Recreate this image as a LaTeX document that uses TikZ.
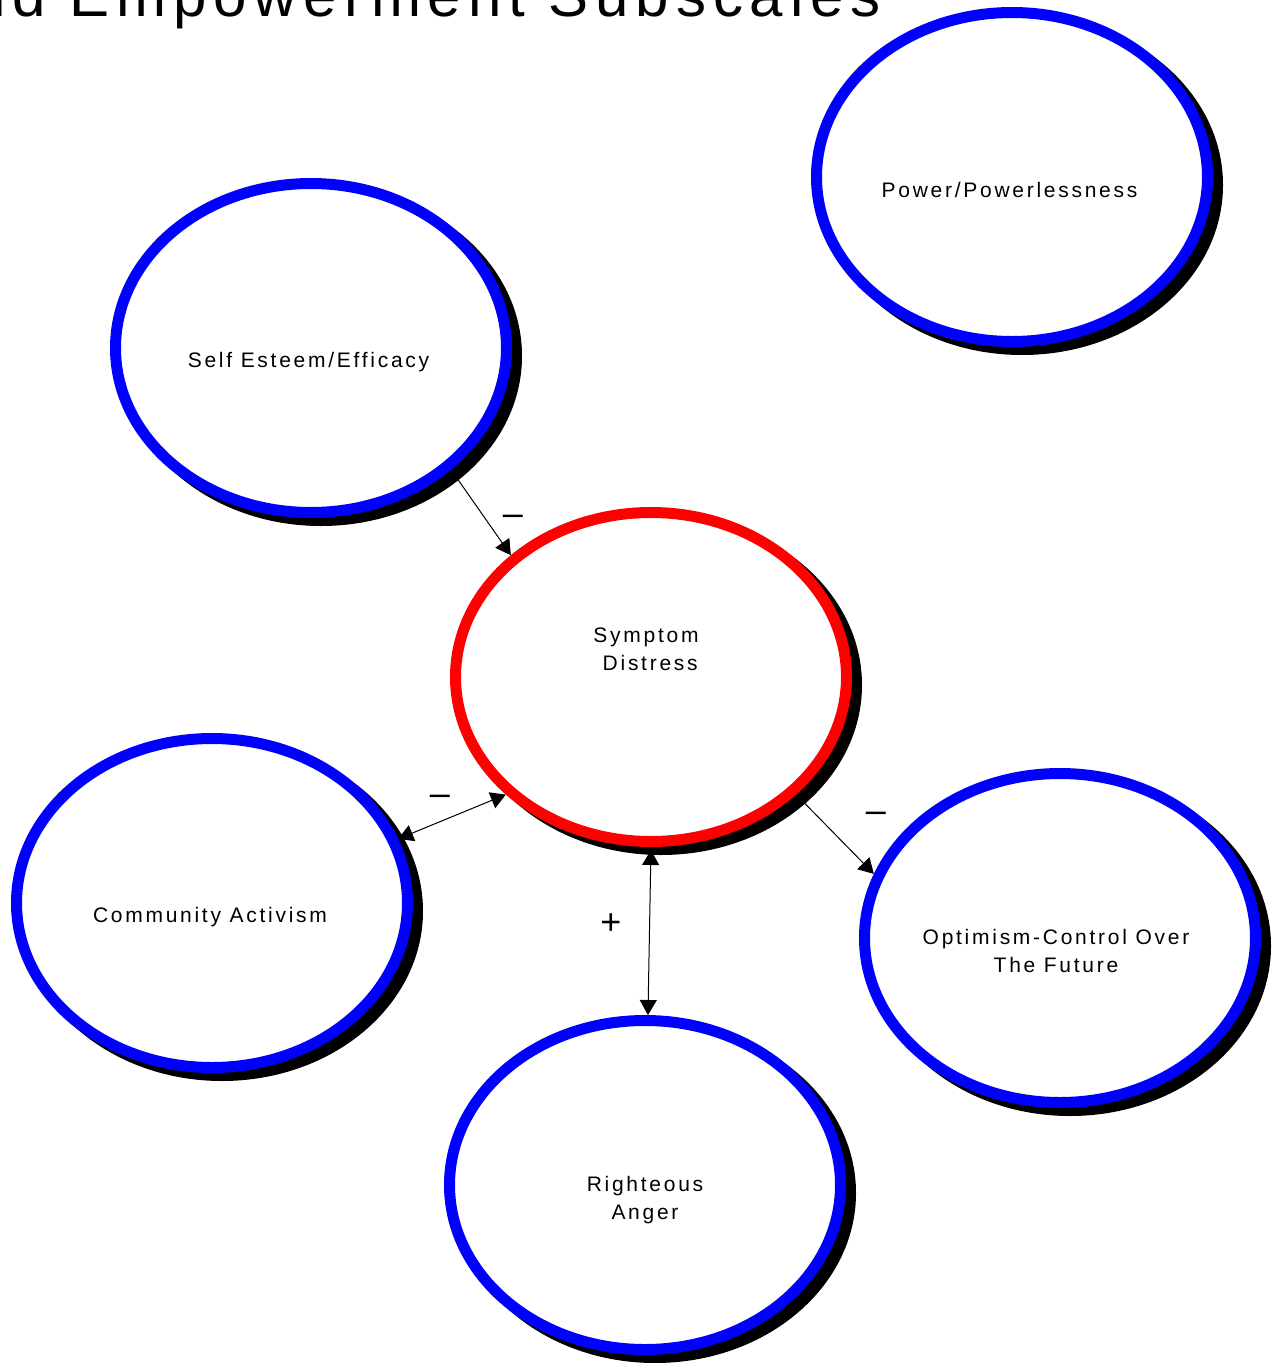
\documentclass[tikz,border=0pt]{standalone}
\usepackage{fontspec}
\setmainfont{Liberation Sans}
\newfontfamily\lblfont[LetterSpace=13]{Liberation Sans}
\newfontfamily\titlefont[LetterSpace=11.5]{Liberation Sans}
\usetikzlibrary{arrows.meta,shapes.geometric,calc}
\pgfdeclarelayer{connlayer}
\pgfdeclarelayer{shadlayer}
\pgfsetlayers{connlayer,shadlayer,main}
\begin{document}
\begin{tikzpicture}[x=1pt,y=-1pt,
  ell/.style={ellipse,draw=blue,fill=white,line width=11pt,minimum width=391pt,minimum height=329pt,inner sep=0pt},
  redell/.style={ell,draw=red},
  shadowell/.style={ellipse,draw=black,fill=black,line width=11pt,minimum width=391pt,minimum height=329pt,inner sep=0pt},
  lbl/.style={font=\lblfont\fontsize{21}{28}\selectfont,align=center,inner sep=0pt,anchor=base},
  sign/.style={font=\fontsize{36}{40}\selectfont,inner sep=0pt,anchor=base},
  link/.style={draw=black,line width=1pt},
  tipend/.style={-{Triangle[length=15pt,width=17pt]}},
  tipboth/.style={{Triangle[length=15pt,width=17pt]}-{Triangle[length=15pt,width=17pt]}},
]
\useasboundingbox (0,0) rectangle (1273,1363);

% title (cut off at the top edge)
\node[font=\titlefont\fontsize{60}{64}\selectfont,anchor=base east,inner sep=0pt] (title) at (881,16) {nd Empowerment Subscales};

% ellipses
\node[ell] (self) at (311,348) {};
\node[ell] (power) at (1012,177) {};
\node[redell] (sym) at (651,677) {};
\node[ell] (comm) at (212,903) {};
\node[ell] (opt) at (1060,938) {};
\node[ell] (anger) at (645,1185) {};

% texts (multi-line nodes: base = last line's baseline)
\node[lbl] (tself) at (308.5,367) {Self Esteem/Efficacy};
\node[lbl] (tpower) at (1009.5,197) {Power/Powerlessness};
\node[lbl] (tsym) at (646,670) {Symptom\\\hspace*{0.4em}Distress};
\node[lbl] (tcomm) at (210,922.5) {Community Activism};
\node[lbl] (topt) at (1056,972.5) {Optimism-Control Over\\The Future};
\node[lbl] (tanger) at (645,1219.5) {Righteous\\Anger};

% signs
\node[sign] (s1) at (513,525) {–};
\node[sign] (s2) at (440,805) {–};
\node[sign] (s3) at (876,822) {–};
\node[sign] (s4) at (611,934) {+};

% shadows
\begin{pgfonlayer}{shadlayer}
\foreach \n in {self,power,sym,comm,opt,anger}
  \node[shadowell] at ($(\n.center)+(10,8)$) {};
\end{pgfonlayer}

% background and connectors
\begin{pgfonlayer}{connlayer}
\fill[white] (0,0) rectangle (1273,1363);
\draw[link,tipend] (self.-41) -- (sym.139);
\draw[link,tipboth] (comm.19) -- (sym.219);
\draw[link,tipend] (sym.-39) -- (opt.161);
\draw[link,tipboth,shorten <=3pt] (sym.-90) -- (anger.89);
\end{pgfonlayer}
\end{tikzpicture}
\end{document}
